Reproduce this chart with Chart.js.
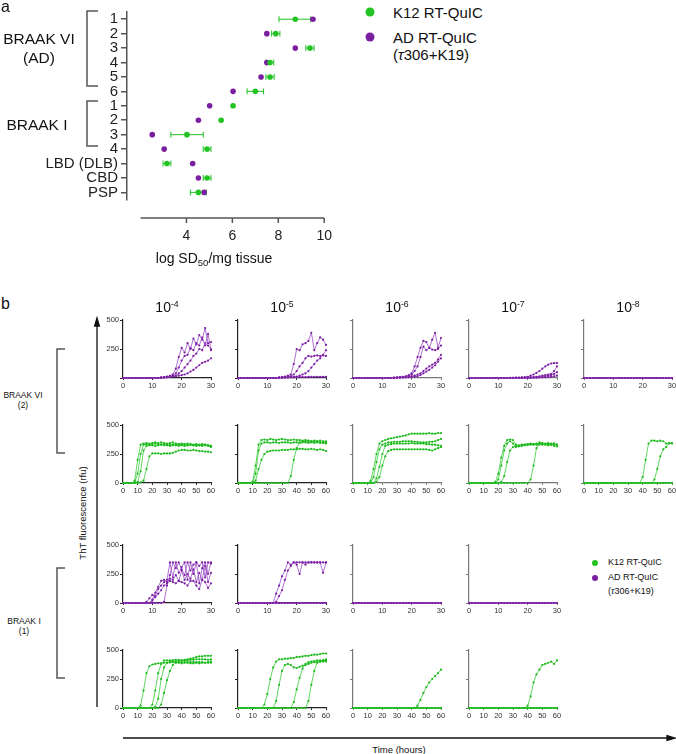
<!DOCTYPE html>
<html>
<head>
<meta charset="utf-8">
<title>Tau seeding: SD50 and RT-QuIC kinetics</title>
<script src="https://cdn.jsdelivr.net/npm/chart.js@4.4.1/dist/chart.umd.min.js"></script>
<style>
  body { margin: 0; background: #fff; }
  #page { position: relative; width: 676px; height: 754px; overflow: hidden; font-family: 'Liberation Sans', Arial, sans-serif; color: #111; }
  canvas, svg, .txt { position: absolute; }
  .txt { white-space: nowrap; line-height: 1; }
  .mid { transform: translateX(-50%); text-align: center; }
  .sup { font-size: 0.62em; vertical-align: 0.6em; }
  .sub { font-size: 0.68em; vertical-align: -0.3em; }
</style>
</head>
<body>
<div id="page">
  <svg width="676" height="754" style="left:0;top:0">
    <g fill="none" stroke="#555" stroke-width="1.5">
      <path d="M98 11 H87 V86 H98"></path>
      <path d="M98 101 H87 V146 H98"></path>
      <path d="M65 349 H57 V453 H65"></path>
      <path d="M65 568 H57 V678 H65"></path>
    </g>
    <g stroke="#111" stroke-width="1.3" fill="#111">
      <line x1="97" y1="707" x2="97" y2="324"></line>
      <polygon points="97,318 94.6,326 99.4,326"></polygon>
      <line x1="123" y1="738" x2="668" y2="738"></line>
      <polygon points="675,738 667,735.6 667,740.4"></polygon>
    </g>
    <circle cx="370" cy="12" r="4.5" fill="#22c322"></circle>
    <circle cx="370" cy="37" r="4.5" fill="#7b1fa2"></circle>
    <circle cx="595" cy="563" r="3" fill="#22c322"></circle>
    <circle cx="595" cy="578" r="3" fill="#7b1fa2"></circle>
  </svg>

  <canvas id="chart-a" width="360" height="270" style="left:0;top:0"></canvas>

  <div class="txt" style="left:1px;top:-1px;font-size:16px">a</div>
  <div class="txt mid" style="left:39px;top:29px;font-size:15.5px;line-height:19px">BRAAK VI<br>(AD)</div>
  <div class="txt mid" style="left:37px;top:117px;font-size:15.5px">BRAAK I</div>
  <div class="txt" style="left:393px;top:5px;font-size:15px">K12 RT-QuIC</div>
  <div class="txt" style="left:393px;top:30px;font-size:15px">AD RT-QuIC</div>
  <div class="txt" style="left:393px;top:47px;font-size:15px">(<i>τ</i>306+K19)</div>
  <div class="txt mid" style="left:214px;top:251px;font-size:14px">log SD<span class="sub">50</span>/mg tissue</div>

  <div class="txt" style="left:1px;top:296px;font-size:16px">b</div>
  <div class="txt mid" style="left:167px;top:300px;font-size:14px">10<span class="sup">-4</span></div>
  <div class="txt mid" style="left:282px;top:300px;font-size:14px">10<span class="sup">-5</span></div>
  <div class="txt mid" style="left:397px;top:300px;font-size:14px">10<span class="sup">-6</span></div>
  <div class="txt mid" style="left:513px;top:300px;font-size:14px">10<span class="sup">-7</span></div>
  <div class="txt mid" style="left:628px;top:300px;font-size:14px">10<span class="sup">-8</span></div>
  <div class="txt mid" style="left:23px;top:390px;font-size:8.5px;line-height:10px">BRAAK VI<br>(2)</div>
  <div class="txt mid" style="left:24px;top:616px;font-size:8.5px;line-height:10px">BRAAK I<br>(1)</div>
  <div class="txt" style="left:83px;top:513px;font-size:9.5px;transform:translate(-50%,-50%) rotate(-90deg)">ThT fluorescence (rfu)</div>
  <div class="txt mid" style="left:399px;top:745px;font-size:9.5px">Time (hours)</div>
  <div class="txt" style="left:608px;top:558px;font-size:9px">K12 RT-QuIC</div>
  <div class="txt" style="left:608px;top:573px;font-size:9px">AD RT-QuIC</div>
  <div class="txt" style="left:608px;top:587px;font-size:9px">(<i>τ</i>306+K19)</div>
</div>

<script>
'use strict';

// ***************** PANEL A DATA ***************** //

let caseLabels = ['1', '2', '3', '4', '5', '6', '1', '2', '3', '4', 'LBD (DLB)', 'CBD', 'PSP'];
let k12Sd50 = [8.74, 7.89, 9.38, 7.64, 7.64, 7.00, 6.03, 5.51, 4.02, 4.90, 3.15, 4.90, 4.52];
let k12Low = [8.03, 7.71, 9.20, 7.46, 7.46, 6.64, 6.03, 5.51, 3.32, 4.73, 2.98, 4.73, 4.17];
let k12High = [9.41, 8.07, 9.56, 7.80, 7.82, 7.36, 6.03, 5.51, 4.73, 5.07, 3.32, 5.07, 4.87];
let adSd50 = [9.51, 7.50, 8.74, 7.50, 7.25, 6.03, 5.01, 4.52, 2.51, 3.03, 4.27, 4.52, 4.77];
let sd50Ticks = [4, 6, 8, 10];

// ***************** PANEL B DATA ***************** //

let hours30 = [0, 1, 2, 3, 4, 5, 6, 7, 8, 9, 10, 11, 12, 13, 14, 15, 16, 17, 18, 19, 20, 21, 22, 23, 24, 25, 26, 27, 28, 29, 30];
let hours60 = [0, 2, 4, 6, 8, 10, 12, 14, 16, 18, 20, 22, 24, 26, 28, 30, 32, 34, 36, 38, 40, 42, 44, 46, 48, 50, 52, 54, 56, 58, 60];
let hourTicks30 = [0, 10, 20, 30];
let hourTicks60 = [0, 10, 20, 30, 40, 50, 60];
let rfuTicks = [0, 250, 500];

let flat31 = [0,0,0,0,0, 0,0,0,0,0, 0,0,0,0,0, 0,0,0,0,0, 0,0,0,0,0, 0,0,0,0,0, 0];

// BRAAK VI (2), AD RT-QuIC, four wells per dilution (rfu, hours30)
let adVI_4 = [
  [0,0,0,0,0, 0,0,0,0,0, 0,0,0, 5,8,12,18,30,80,180,260,220,300,250,340,290,370,330,430,300,310],
  [0,0,0,0,0, 0,0,0,0,0, 0,0,0, 4,6,10,15,20,40,90,150,190,200,260,240,300,280,350,280,380,240],
  [0,0,0,0,0, 0,0,0,0,0, 0,0,0, 3,5,8,10,15,20,40,60,90,120,150,190,210,250,240,300,280,250],
  [0,0,0,0,0, 0,0,0,0,0, 0,0,0, 2,4,6,10,12,15,20,25,30,40,55,70,90,110,130,140,150,170]
];
let adVI_5 = [
  [0,0,0,0,0, 0,0,0,0,0, 0,0,0,0, 5,8,12,20,30,120,250,240,290,300,320,390,240,300,350,330,285],
  [0,0,0,0,0, 0,0,0,0,0, 0,0,0,0, 3,5,8,12,15,30,60,100,130,170,190,185,190,195,190,195,190],
  [0,0,0,0,0, 0,0,0,0,0, 0,0,0,0, 2,3,4,5,8,10,12,20,30,40,60,90,120,150,170,200,240],
  [0,0,0,0,0, 0,0,0,0,0, 0,0,0,0, 2,3,4,5,6,6,7,8,8,8,9,9,10,10,10,10,10]
];
let adVI_6 = [
  [0,0,0,0,0, 0,0,0,0,0, 0,0,0,0, 3,5,8,10,15,25,40,100,180,260,320,310,260,330,390,260,345],
  [0,0,0,0,0, 0,0,0,0,0, 0,0,0,0, 2,4,6,8,12,18,30,60,100,180,270,240,260,245,240,250,280],
  [0,0,0,0,0, 0,0,0,0,0, 0,0,0,0, 2,3,4,6,8,10,15,20,30,40,60,80,100,115,130,160,200],
  [0,0,0,0,0, 0,0,0,0,0, 0,0,0,0, 1,2,3,4,5,6,8,10,15,25,40,55,70,90,110,140,170]
];
let adVI_7 = [
  [0,0,0,0,0, 0,0,0,0,0, 0,0,0,0, 1,2,3,4,5,7,10,20,30,45,60,80,100,115,125,128,130],
  [0,0,0,0,0, 0,0,0,0,0, 0,0,0,0, 0,1,1,2,2,3,4,5,8,10,15,20,25,30,35,60,100],
  [0,0,0,0,0, 0,0,0,0,0, 0,0,0,0, 0,0,1,1,1,2,2,3,4,5,8,10,15,20,25,35,50],
  [0,0,0,0,0, 0,0,0,0,0, 0,0,0,0, 0,0,0,0,1,1,1,2,2,3,4,5,6,8,10,15,20]
];
let adVI_8 = [flat31, flat31, flat31, flat31];

// BRAAK VI (2), K12 RT-QuIC (rfu, hours60)
let k12VI_4 = [
  [0,0,0,0, 20,200,330,340,345,340,345,350,345,350,345,340,345,350,340,335,340,335,340,335,330,335,330,335,330,325,320],
  [0,0,0,0, 5,80,250,330,335,330,335,340,335,330,335,330,335,330,330,335,330,330,325,330,325,330,325,320,330,325,320],
  [0,0,0,0,0, 10,100,280,320,325,325,320,325,330,325,325,320,325,325,320,325,320,325,330,325,320,325,330,325,320,310],
  [0,0,0,0,0,0, 5,20,120,230,255,255,255,250,255,255,255,260,270,280,285,285,280,280,285,280,275,275,270,270,265]
];
let k12VI_5 = [
  [0,0,0,0,0, 10,150,330,370,375,370,380,375,370,375,380,375,370,370,375,370,370,365,370,365,360,365,360,365,360,360],
  [0,0,0,0,0, 5,80,280,340,350,350,345,350,350,345,350,350,350,345,350,350,345,350,350,345,350,345,350,345,350,350],
  [0,0,0,0,0,0, 20,120,200,250,270,275,280,280,280,285,285,285,290,290,290,295,295,290,290,295,290,285,290,285,275],
  [0,0,0,0,0, 0,0,0,0,0, 0,0,0,0,0, 0,0,0, 60,200,300,350,360,360,355,360,355,360,350,345,340]
];
let k12VI_6 = [
  [0,0,0,0,0,0, 20,120,250,340,360,370,380,385,390,395,400,405,410,420,425,425,425,425,425,425,430,425,425,430,430],
  [0,0,0,0,0,0,0, 50,180,290,330,340,350,350,355,355,355,360,360,360,360,355,355,350,350,350,355,355,360,370,380],
  [0,0,0,0,0,0,0,0, 40,140,250,320,330,335,340,340,340,340,340,340,345,340,340,340,340,335,335,330,330,325,320],
  [0,0,0,0,0,0,0,0, 10,50,150,230,275,285, 290,290,290,290,290,290,290,290,290,290,290,290, 285,280,290,300,310]
];
let k12VI_7 = [
  [0,0,0,0,0, 0,0,0,0, 10,80,220,320,370,375,370,330,320,325,330,335,340,335,340,335,340,335,340,330,340,320],
  [0,0,0,0,0, 0,0,0,0,0, 30,150,280,340,360,340,310,315,320,325,330,330,335,330,340,330,335,330,340,335,330],
  [0,0,0,0,0, 0,0,0,0,0, 0, 10,60,180,280,310,320,325,330,330,330,335,330,335,330,335,330,325,330,320,315],
  [0,0,0,0,0, 0,0,0,0,0, 0,0,0,0,0, 0,0,0,0,0, 0, 30,150,300,350,345,340,345,335,340,330]
];
let k12VI_8 = [
  [0,0,0,0,0, 0,0,0,0,0, 0,0,0,0,0, 0,0,0,0,0, 50,200,340,365,365,360,365,360,340,345,340],
  [0,0,0,0,0, 0,0,0,0,0, 0,0,0,0,0, 0,0,0,0,0, 0,0,0,0, 30,120,230,290,310,340,345],
  flat31,
  flat31
];

// BRAAK I (1), AD RT-QuIC (rfu, hours30)
let adI_4 = [
  [0,0,0,0,0, 0,0,0, 10,40,70,60,120,150,180,200,350,220,350,260,310,350,200,350,250,350,170,300,350,250,350],
  [0,0,0,0,0, 0,0,0,0,0, 30,90,140,190,200,180,210,200,240,190,280,200,250,210,290,180,260,200,320,180,260],
  [0,0,0,0,0, 0,0,0,0,0, 20,50,80,110,150,170,190,180,170,190,180,170,150,190,190,150,120,200,180,130,170],
  [0,0,0,0,0, 0,0,0,0,0, 0,0,0,0, 10,150,240,350,300,350,290,240,350,280,330,350,320,350,220,350,340]
];
let adI_5 = [
  [0,0,0,0,0, 0,0,0,0,0, 0,0,0, 80,150,230,280,350,330,350,330,250,350,350,350,350,350,350,350,350,350],
  [0,0,0,0,0, 0,0,0,0,0, 0,0,0, 10,60,110,200,280,320,350,350,350,350,330,350,350,350,350,350,260,350],
  flat31,
  flat31
];
let adI_6 = [flat31, flat31, flat31, flat31];
let adI_7 = [flat31, flat31, flat31, flat31];

// BRAAK I (1), K12 RT-QuIC (rfu, hours60)
let k12I_4 = [
  [0,0,0,0,0,0, 20,150,300,360,375,380,385,385,390,390,392,395,395,395,395,395,395,395,395,395,395,395,390,390,390],
  [0,0,0,0,0, 0,0,0,0,0, 30,150,300,380,410,410,410,412,415,415,410,415,420,425,430,440,445,445,450,450,450],
  [0,0,0,0,0, 0,0,0,0,0, 0, 10,80,250,350,390,400,400,405,405,410,410,410,415,415,420,420,420,420,415,420],
  [0,0,0,0,0, 0,0,0,0,0, 0,0,0, 30,130,240,320,370,390,390,385,390,390,385,385,390,385,390,390,395,400]
];
let k12I_5 = [
  [0,0,0,0,0, 0,0,0,0, 30,120,250,350,400,420,420,425,425,430,430,440,440,445,450,450,455,460,460,465,470,470],
  [0,0,0,0,0, 0,0,0,0,0, 0,0,0, 60,200,320,370,380,370,350,345,355,365,370,380,390,395,395,400,400,400],
  [0,0,0,0,0, 0,0,0,0,0, 0,0,0,0,0, 0,0,0,0, 50,160,260,340,380,395,400,405,410,410,410,410],
  [0,0,0,0,0, 0,0,0,0,0, 0,0,0,0,0, 0,0,0,0,0, 0,0,0,0, 60,200,320,390,400,410,420]
];
let k12I_6 = [
  [0,0,0,0,0, 0,0,0,0,0, 0,0,0,0,0, 0,0,0,0,0, 0,0, 20,70,130,180,220,250,275,300,330],
  flat31,
  flat31,
  flat31
];
let k12I_7 = [
  [0,0,0,0,0, 0,0,0,0,0, 0,0,0,0,0, 0,0,0,0,0, 20,100,220,290,330,370,380,390,400,380,410],
  flat31,
  flat31,
  flat31
];

// ***************** LAYOUT / STYLE ***************** //

Chart.defaults.font.family = "'Liberation Sans', Arial, sans-serif";
Chart.defaults.color = '#222';

let green = '#22c322';
let purple = '#7b1fa2';

let colLefts = [123, 238, 353, 469, 584];
let plotWidth = 88;
let plotHeight = 58;

let rowSpecs = [
  { top: 320, hours: hours30, xTicks: hourTicks30, xMax: 30, line: '#9a4cc4', dot: purple, wells: [adVI_4, adVI_5, adVI_6, adVI_7, adVI_8] },
  { top: 425, hours: hours60, xTicks: hourTicks60, xMax: 60, line: '#38cc38', dot: '#1fb81f', wells: [k12VI_4, k12VI_5, k12VI_6, k12VI_7, k12VI_8] },
  { top: 545, hours: hours30, xTicks: hourTicks30, xMax: 30, line: '#9a4cc4', dot: purple, wells: [adI_4, adI_5, adI_6, adI_7] },
  { top: 650, hours: hours60, xTicks: hourTicks60, xMax: 60, line: '#38cc38', dot: '#1fb81f', wells: [k12I_4, k12I_5, k12I_6, k12I_7] }
];

let page = document.getElementById('page');

// ***************** PANEL A ***************** //

const errorBars = {
  id: 'errorBars',
  beforeDatasetsDraw(chart) {
    let ctx = chart.ctx;
    let xs = chart.scales.x;
    let ys = chart.scales.y;
    ctx.save();
    ctx.strokeStyle = green;
    ctx.lineWidth = 1;
    for (let i = 0; i < k12Low.length; i++) {
      let y = ys.getPixelForValue(i);
      let x1 = xs.getPixelForValue(k12Low[i]);
      let x2 = xs.getPixelForValue(k12High[i]);
      if (x2 - x1 < 1) {
        continue;
      }
      ctx.beginPath();
      ctx.moveTo(x1, y);
      ctx.lineTo(x2, y);
      ctx.moveTo(x1, y - 3);
      ctx.lineTo(x1, y + 3);
      ctx.moveTo(x2, y - 3);
      ctx.lineTo(x2, y + 3);
      ctx.stroke();
    }
    ctx.restore();
  }
};

// the x axis of panel a sits a little below the data, detached from the y axis
const detachedXAxis = {
  id: 'detachedXAxis',
  afterDraw(chart) {
    let ctx = chart.ctx;
    let xs = chart.scales.x;
    let y = chart.chartArea.bottom + 18.5;
    ctx.save();
    ctx.strokeStyle = '#555';
    ctx.lineWidth = 1.5;
    ctx.beginPath();
    ctx.moveTo(xs.getPixelForValue(2), y);
    ctx.lineTo(xs.getPixelForValue(10), y);
    for (let i = 0; i < sd50Ticks.length; i++) {
      let px = xs.getPixelForValue(sd50Ticks[i]);
      ctx.moveTo(px, y);
      ctx.lineTo(px, y + 5);
    }
    ctx.stroke();
    ctx.restore();
  }
};

function renderSd50Chart() {
  let k12Points = [];
  let adPoints = [];
  for (let i = 0; i < caseLabels.length; i++) {
    k12Points.push({ x: k12Sd50[i], y: i });
    adPoints.push({ x: adSd50[i], y: i });
  }

  new Chart(document.getElementById('chart-a').getContext('2d'), {
    type: 'scatter',
    data: {
      datasets: [{
        label: 'K12 RT-QuIC',
        data: k12Points,
        backgroundColor: green,
        borderColor: green,
        pointRadius: 2.8,
        pointBorderWidth: 0
      },
      {
        label: 'AD RT-QuIC (τ306+K19)',
        data: adPoints,
        backgroundColor: purple,
        borderColor: purple,
        pointRadius: 2.8,
        pointBorderWidth: 0
      }]
    },
    options: {
      responsive: false,
      animation: false,
      events: [],
      layout: { padding: { top: 2.4, right: 15, left: 0, bottom: 0 } },
      plugins: { legend: { display: false }, tooltip: { enabled: false } },
      scales: {
        x: {
          type: 'linear',
          min: 1.41,
          max: 10,
          afterBuildTicks: (s) => { s.ticks = sd50Ticks.map((v) => ({ value: v })); },
          afterFit: (s) => { s.height = 70.4; },
          grid: { display: false, drawTicks: false },
          border: { display: false },
          ticks: { padding: 28, font: { size: 14 }, color: '#222', maxRotation: 0 }
        },
        y: {
          type: 'category',
          labels: caseLabels,
          offset: true,
          afterFit: (s) => { s.width = 127; },
          grid: { drawOnChartArea: false, tickLength: 6, color: '#555', lineWidth: 1.5 },
          border: { color: '#555', width: 1.5 },
          ticks: { font: { size: 15 }, color: '#222', padding: 3, autoSkip: false }
        }
      }
    },
    plugins: [errorBars, detachedXAxis]
  });
}

renderSd50Chart();

// ***************** PANEL B ***************** //

function buildRun(hours, values) {
  let points = [];
  for (let i = 0; i < hours.length; i++) {
    points.push({ x: hours[i], y: values[i] });
  }
  return points;
}

function renderKinetics(rowIndex, colIndex) {
  let row = rowSpecs[rowIndex];
  let axisColor = colIndex < 2 ? '#222' : '#777';

  let canvas = document.createElement('canvas');
  canvas.width = 32 + plotWidth + 8;
  canvas.height = 6 + plotHeight + 18;
  canvas.style.left = (colLefts[colIndex] - 32) + 'px';
  canvas.style.top = (row.top - 6) + 'px';
  page.appendChild(canvas);

  let datasets = row.wells[colIndex].map((well) => ({
    data: buildRun(row.hours, well),
    borderColor: row.line,
    borderWidth: 0.8,
    pointRadius: 1.1,
    pointBackgroundColor: row.dot,
    pointBorderWidth: 0,
    pointHoverRadius: 0,
    clip: false
  }));

  new Chart(canvas.getContext('2d'), {
    type: 'line',
    data: { datasets: datasets },
    options: {
      responsive: false,
      animation: false,
      events: [],
      layout: { padding: { top: 6, right: 8, left: 0, bottom: 0 } },
      plugins: { legend: { display: false }, tooltip: { enabled: false } },
      scales: {
        x: {
          type: 'linear',
          min: 0,
          max: row.xMax,
          afterBuildTicks: (s) => { s.ticks = row.xTicks.map((v) => ({ value: v })); },
          afterFit: (s) => { s.height = 18; },
          grid: { drawOnChartArea: false, tickLength: 2, color: axisColor },
          border: { color: axisColor, width: 1.2 },
          ticks: { font: { size: 7.5 }, color: '#333', padding: 1, maxRotation: 0, autoSkip: false }
        },
        y: {
          min: 0,
          max: 500,
          afterBuildTicks: (s) => { s.ticks = rfuTicks.map((v) => ({ value: v })); },
          afterFit: (s) => { s.width = 32; },
          grid: { drawOnChartArea: false, tickLength: 3, color: axisColor },
          border: { color: axisColor, width: 1.2 },
          ticks: {
            font: { size: 7.5 },
            color: '#333',
            padding: 1,
            callback: (v) => {
              if (colIndex !== 0 || (rowIndex === 0 && v === 0)) {
                return '';
              }
              return String(v);
            }
          }
        }
      }
    }
  });
}

for (let r = 0; r < rowSpecs.length; r++) {
  for (let c = 0; c < rowSpecs[r].wells.length; c++) {
    renderKinetics(r, c);
  }
}
</script>
</body>
</html>
